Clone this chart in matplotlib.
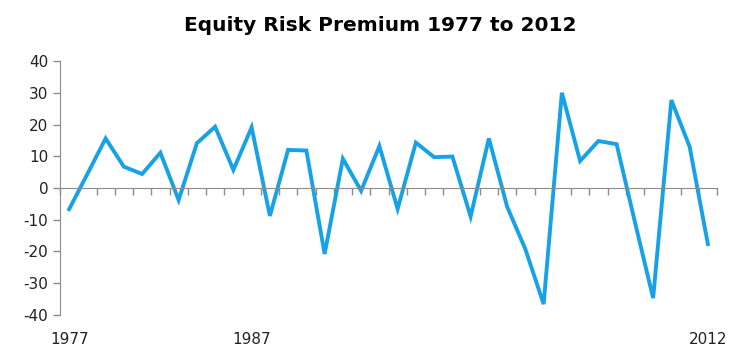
import numpy as np
import matplotlib.pyplot as plt
plt.rcParams['axes.unicode_minus'] = False

years = list(range(1977, 2013))
premium = [-6.7, 4.4, 15.6, 6.7, 4.4, 11.1, -3.8, 14.1, 19.3, 5.7,
           19.1, -8.8, 12.0, 11.8, -20.8, 9.2, -0.9, 13.2, -6.6, 14.3,
           9.7, 9.9, -9.0, 15.6, -5.9, -19.3, -36.6, 30.0, 8.5, 14.8,
           13.8, -10.7, -34.7, 27.7, 13.0, -17.7]
label_years = ['1977', '1987', '2012']

x = np.arange(len(years))
grey = '#8c8c8c'

fig = plt.figure(figsize=(7.5, 3.57), dpi=100)
ax = fig.add_axes([0.08, 0.118, 0.876, 0.711])

ax.plot(x, premium, color='#17a2e8', lw=2.8, solid_joinstyle='miter')

ax.set_xlim(-0.5, len(years) - 0.5)
ax.set_ylim(-40, 40)
ax.set_yticks(range(-40, 41, 10))
ax.tick_params(axis='y', colors=grey, labelcolor='#222222', labelsize=11,
               length=5, width=1, direction='out')

# category axis drawn through zero
ax.spines['bottom'].set_position(('data', 0))
ax.spines['bottom'].set_color(grey)
ax.spines['left'].set_color(grey)
ax.spines['top'].set_visible(False)
ax.spines['right'].set_visible(False)
ax.set_xticks(np.arange(-0.5, len(years), 1))
ax.tick_params(axis='x', colors=grey, length=5, width=1, direction='out',
               labelbottom=False)

# year labels at the bottom of the plot area
sec = ax.secondary_xaxis('bottom')
sec.set_xticks([0, 10, len(years) - 1], labels=label_years)
sec.tick_params(length=0, pad=12, labelsize=11, labelcolor='#222222')
sec.spines['bottom'].set_visible(False)

fig.suptitle('Equity Risk Premium 1977 to 2012', x=0.507, y=0.955,
             fontsize=14.5, fontweight='bold')

plt.savefig('out.png', dpi=100)
